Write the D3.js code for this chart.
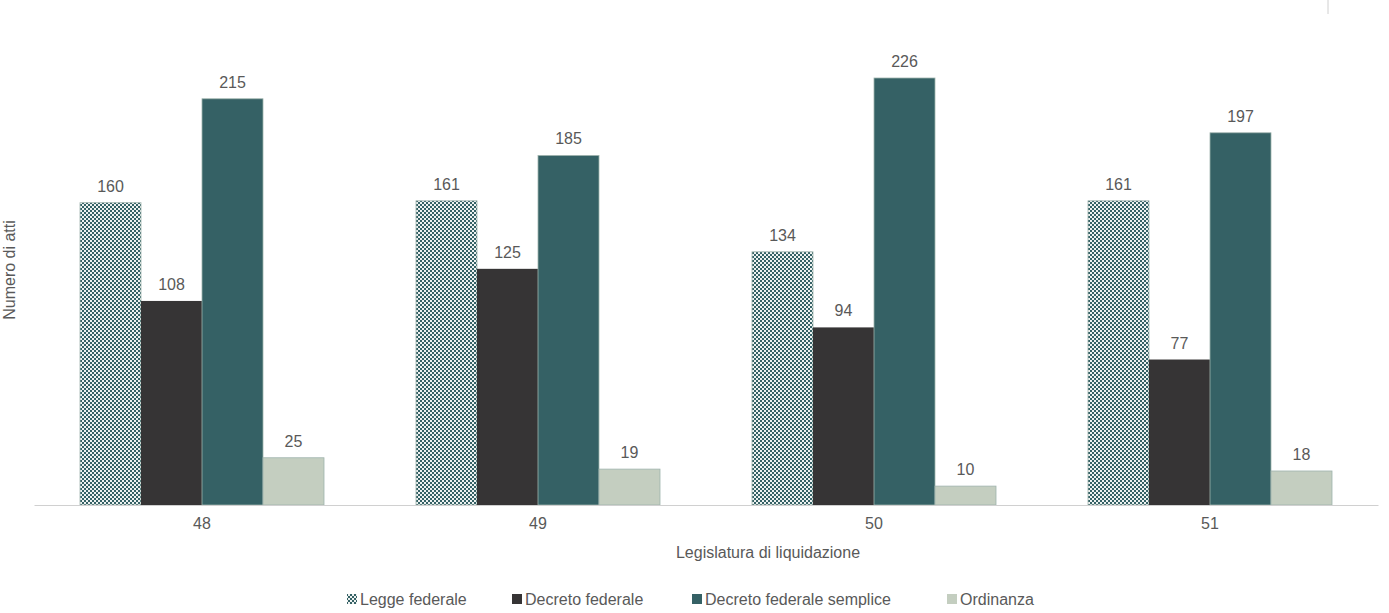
<!DOCTYPE html>
<html><head><meta charset="utf-8">
<script src="https://cdn.jsdelivr.net/npm/d3@7"></script>
<style>body{margin:0;background:#fff}text{font-family:"Liberation Sans",Arial,sans-serif;fill:#595959}</style>
</head><body><svg id="c" width="1389" height="613"></svg>
<script>
const categories=["48","49","50","51"];
const seriesNames=["Legge federale","Decreto federale","Decreto federale semplice","Ordinanza"];
const legge=[160,161,134,161];
const decreto=[108,125,94,77];
const semplice=[215,185,226,197];
const ordinanza=[25,19,10,18];
const values=[legge,decreto,semplice,ordinanza];
const colors=["url(#chk)","#363435","#356165","#c4cec0"];
const svg=d3.select("#c");
const defs=svg.append("defs");
const p=defs.append("pattern").attr("id","chk").attr("width",4).attr("height",4).attr("patternUnits","userSpaceOnUse");
p.append("rect").attr("width",4).attr("height",4).attr("fill","#eef2f1");
p.append("rect").attr("width",2).attr("height",2).attr("fill","#356165");
p.append("rect").attr("x",2).attr("y",2).attr("width",2).attr("height",2).attr("fill","#356165");
const x=d3.scaleBand().domain(categories).range([34,1378]);
const xi=d3.scaleBand().domain(d3.range(4)).range([46,290]);
const y=d3.scaleLinear().domain([0,226]).range([505,78]);
const g=svg.append("g");
categories.forEach((c,ci)=>{
  values.forEach((arr,si)=>{
    const v=arr[ci],bx=x(c)+xi(si),w=xi.bandwidth();
    g.append("rect").attr("x",bx).attr("y",y(v)).attr("width",w).attr("height",y(0)-y(v))
     .attr("fill",colors[si]).attr("stroke",si==1?"none":"#9fb3ad").attr("stroke-width",si==1?0:0.8);
    g.append("text").attr("x",bx+w/2).attr("y",y(v)-11).attr("text-anchor","middle").attr("font-size",16).text(v);
  });
});
const ax=svg.append("g").attr("transform","translate(0,505)").call(d3.axisBottom(x).tickSize(0).tickPadding(13));
ax.select(".domain").attr("stroke","#d0d0d0");
ax.selectAll("text").attr("font-size",16).attr("fill","#595959").style("font-family","Liberation Sans, Arial");
svg.append("line").attr("x1",1328).attr("x2",1328).attr("y1",0).attr("y2",14).attr("stroke","#d0d0d0");
svg.append("text").attr("x",768).attr("y",558).attr("text-anchor","middle").attr("font-size",16).text("Legislatura di liquidazione");
svg.append("text").attr("transform","translate(15,270) rotate(-90)").attr("text-anchor","middle").attr("font-size",16).text("Numero di atti");
const lx=[347,512,692,947];
seriesNames.forEach((n,i)=>{
  svg.append("rect").attr("x",lx[i]).attr("y",594).attr("width",10).attr("height",10).attr("fill",colors[i]);
  svg.append("text").attr("x",lx[i]+13).attr("y",605).attr("font-size",16).text(n);
});
</script></body></html>
